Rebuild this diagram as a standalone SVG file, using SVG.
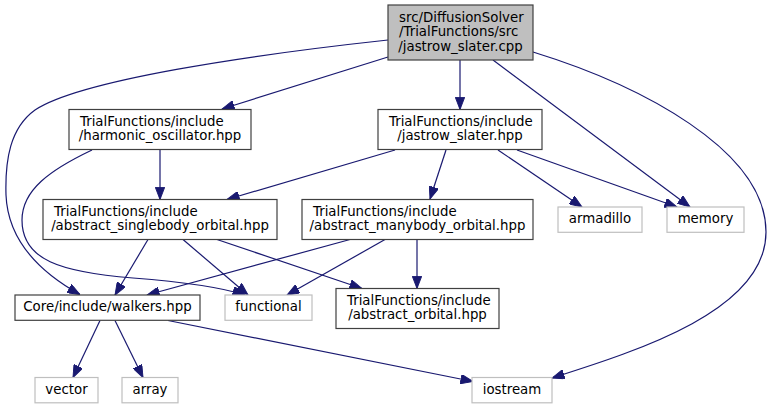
<svg xmlns="http://www.w3.org/2000/svg" width="771" height="409" viewBox="0 0 771 409">
<style>
text{font-family:"DejaVu Sans","Liberation Sans",sans-serif;font-size:13.33px;fill:#000}
.n rect{fill:#fff;stroke:#404040;stroke-width:1.2}
.n.root rect{fill:#bfbfbf}
.n.ext rect{stroke:#bfbfbf}
.c{text-anchor:middle}
#edges path{fill:none;stroke:#191970;stroke-width:1.2;marker-end:url(#ah)}
</style>
<defs>
<marker id="ah" viewBox="0 0 13 10" refX="13" refY="5" markerWidth="13" markerHeight="9.4" markerUnits="userSpaceOnUse" orient="auto">
<path d="M0,0 L13,5 L0,10 z" fill="#191970" stroke="#191970" stroke-width="1"/>
</marker>
</defs>
<rect width="771" height="409" fill="#fff"/>
<g id="edges">
<path d="M388,57 L222,109"/>
<path d="M460,60 L460,109.5"/>
<path d="M493,60 L690,207"/>
<path d="M533,52 C640,85 766,150 766,232 C766,310 640,350 552,378"/>
<path d="M388,40 C250,55 80,80 35,110 C10,128 5,160 6,195 C8,245 45,275 80,294.5"/>
<path d="M160,149.5 L160,199.5"/>
<path d="M92,150 C50,170 22,190 22,220 C22,260 60,272 133,278 C185,282 220,287 245,295"/>
<path d="M395,150 L227,199.5"/>
<path d="M446,150 L430,199"/>
<path d="M498,150 L582,207"/>
<path d="M517,150 L677,207"/>
<path d="M148,239.5 L115,295"/>
<path d="M183,239.5 L248,295"/>
<path d="M217,239.5 L362,288.5"/>
<path d="M350,239.5 L147,295"/>
<path d="M385,239.5 L287,295"/>
<path d="M417,239.5 L417,288.5"/>
<path d="M100,320.5 L73,377.5"/>
<path d="M115,320.5 L143,377.5"/>
<path d="M168,320.5 L473,381.5"/>
</g>
<g id="node_root" class="n root">
<rect x="388" y="5" width="145" height="55"/>
<text x="399" y="21.5">src/DiffusionSolver</text>
<text x="399" y="36.2">/TrialFunctions/src</text>
<text x="460.5" y="50.8" class="c">/jastrow_slater.cpp</text>
</g>
<g id="node_harmonic" class="n">
<rect x="69" y="109.5" width="182" height="40"/>
<text x="80" y="125.5">TrialFunctions/include</text>
<text x="160" y="140.2" class="c">/harmonic_oscillator.hpp</text>
</g>
<g id="node_jastrow_hpp" class="n">
<rect x="378" y="109.5" width="164" height="40"/>
<text x="389" y="125.5">TrialFunctions/include</text>
<text x="460" y="140.2" class="c">/jastrow_slater.hpp</text>
</g>
<g id="node_singlebody" class="n">
<rect x="43" y="199.5" width="234" height="40"/>
<text x="54" y="215.5">TrialFunctions/include</text>
<text x="160" y="230.2" class="c">/abstract_singlebody_orbital.hpp</text>
</g>
<g id="node_manybody" class="n">
<rect x="302" y="199.5" width="231" height="40"/>
<text x="313" y="215.5">TrialFunctions/include</text>
<text x="417.5" y="230.2" class="c">/abstract_manybody_orbital.hpp</text>
</g>
<g id="node_armadillo" class="n ext">
<rect x="558" y="207" width="84" height="25.3"/>
<text x="600" y="223" class="c">armadillo</text>
</g>
<g id="node_memory" class="n ext">
<rect x="667" y="207" width="77" height="25.3"/>
<text x="705.5" y="223" class="c">memory</text>
</g>
<g id="node_walkers" class="n">
<rect x="15" y="295" width="185" height="25.3"/>
<text x="107.5" y="311" class="c">Core/include/walkers.hpp</text>
</g>
<g id="node_functional" class="n ext">
<rect x="225" y="295" width="87" height="25.3"/>
<text x="268.5" y="311" class="c">functional</text>
</g>
<g id="node_abstract_orbital" class="n">
<rect x="336" y="288.5" width="163" height="40"/>
<text x="347" y="304.5">TrialFunctions/include</text>
<text x="417.5" y="319.2" class="c">/abstract_orbital.hpp</text>
</g>
<g id="node_vector" class="n ext">
<rect x="35" y="377.5" width="63" height="25.3"/>
<text x="66.5" y="393.5" class="c">vector</text>
</g>
<g id="node_array" class="n ext">
<rect x="122" y="377.5" width="56" height="25.3"/>
<text x="150" y="393.5" class="c">array</text>
</g>
<g id="node_iostream" class="n ext">
<rect x="472" y="377.5" width="80" height="25.3"/>
<text x="512" y="393.5" class="c">iostream</text>
</g>
</svg>
